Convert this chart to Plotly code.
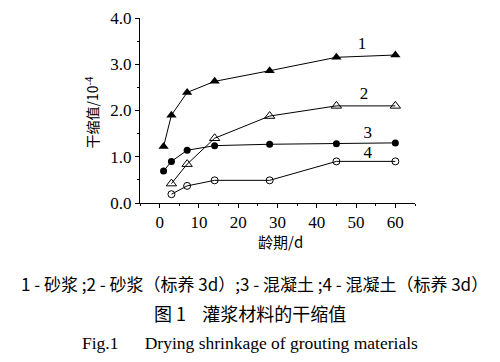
import plotly.graph_objects as go

days_a = [1, 3, 7, 14, 28, 45, 60]
days_b = [3, 7, 14, 28, 45, 60]
s1 = [1.22, 1.90, 2.39, 2.63, 2.86, 3.15, 3.20]
s2 = [0.42, 0.84, 1.40, 1.88, 2.10, 2.10]
s3 = [0.69, 0.90, 1.14, 1.24, 1.27, 1.28, 1.30]
s4 = [0.19, 0.37, 0.49, 0.49, 0.90, 0.90]
labels = ["1", "2", "3", "4"]
label_x = [51.5, 52, 53, 53]
label_y = [3.42, 2.33, 1.50, 1.06]
x_ticks = [0, 10, 20, 30, 40, 50, 60]
y_ticks = [0, 1, 2, 3, 4]
y_ticktext = ["0.0", "1.0", "2.0", "3.0", "4.0"]

SERIF = "Liberation Serif, Times New Roman, serif"
CJK = "Noto Sans CJK SC"

# plot area in window pixels (reference): left 140, right 415, top 9, bottom 203
PL, PR, PT, PB = 140, 415, 9, 203
PW, PH = PR - PL, PB - PT


def dx(px):
    return (px - PL) / PW


def dy(py):
    return (PB - py) / PH


fig = go.Figure()
line = dict(color="black", width=1)
fig.add_trace(go.Scatter(x=days_a, y=s1, mode="lines+markers", line=line,
                         marker=dict(symbol="triangle-up", size=9, color="black")))
fig.add_trace(go.Scatter(x=days_b, y=s2, mode="lines+markers", line=line,
                         marker=dict(symbol="triangle-up-open", size=9, color="black", line=dict(width=1))))
fig.add_trace(go.Scatter(x=days_a, y=s3, mode="lines+markers", line=line,
                         marker=dict(symbol="circle", size=7, color="black")))
fig.add_trace(go.Scatter(x=days_b, y=s4, mode="lines+markers", line=line,
                         marker=dict(symbol="circle-open", size=7, color="black", line=dict(width=1))))
fig.add_trace(go.Scatter(x=label_x, y=label_y, mode="text", text=labels,
                         textfont=dict(family=SERIF, size=17, color="black")))

# page body has an 8px margin: figure is 492x354 placed at (8, 8)
fig.update_layout(
    width=492, height=354,
    margin=dict(l=PL - 8, r=492 - (PR - 8), t=PT - 8, b=354 - (PB - 8)),
    paper_bgcolor="white", plot_bgcolor="white",
    showlegend=False,
    font=dict(family=SERIF, color="black"),
)
fig.update_xaxes(range=[-5, 65], tickvals=x_ticks,
                 ticks="outside", ticklen=4, tickcolor="black",
                 minor=dict(dtick=5, ticks="outside", ticklen=2, tickcolor="black"),
                 showline=True, linecolor="black", linewidth=1, showgrid=False, zeroline=False,
                 ticklabeloverflow="allow",
                 tickfont=dict(family=SERIF, size=17, color="black"))
fig.update_yaxes(range=[0, 4], tickvals=y_ticks, ticktext=y_ticktext,
                 ticks="outside", ticklen=4, tickcolor="black",
                 minor=dict(dtick=0.5, ticks="outside", ticklen=2, tickcolor="black"),
                 showline=True, linecolor="black", linewidth=1, showgrid=False, zeroline=False,
                 ticklabeloverflow="allow",
                 tickfont=dict(family=SERIF, size=17, color="black"))

ann = dict(xref="x domain", yref="y domain", xanchor="center", yanchor="middle", showarrow=False)
fig.add_annotation(x=dx(92), y=dy(108), text="干缩值/10<sup>-4</sup>", textangle=-90,
                   font=dict(family=CJK, size=14, color="black"), **ann)
fig.add_annotation(x=dx(280), y=dy(243), text="龄期/d",
                   font=dict(family=CJK, size=15, color="black"), **ann)
fig.add_annotation(x=dx(254), y=dy(287),
                   text="1 - 砂浆 ;2 - 砂浆（标养 3d）;3 - 混凝土 ;4 - 混凝土（标养 3d）",
                   font=dict(family=CJK, size=17, color="black"), **ann)
fig.add_annotation(x=dx(250), y=dy(318), text="图 1    灌浆材料的干缩值",
                   font=dict(family=CJK, size=18, color="black"), **ann)
fig.add_annotation(x=dx(250), y=dy(350), text="Fig.1      Drying shrinkage of grouting materials",
                   font=dict(family=SERIF, size=17.5, color="black"), **ann)

fig.write_html("out.html")
